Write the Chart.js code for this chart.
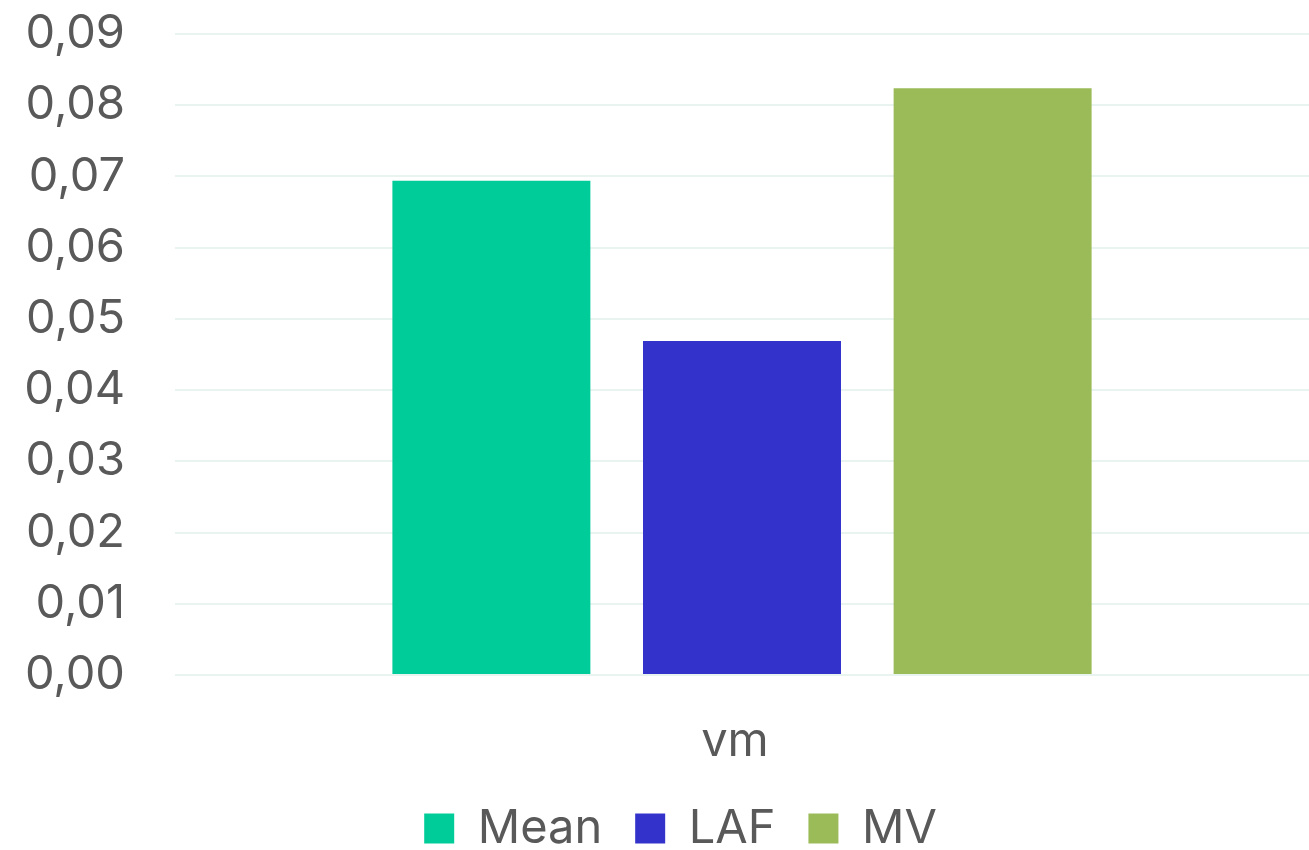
<!DOCTYPE html>
<html>
<head>
<meta charset="utf-8">
<script src="https://cdn.jsdelivr.net/npm/chart.js@4/dist/chart.umd.min.js"></script>
<style>
  html, body { margin: 0; padding: 0; background: #fff; }
  #wrap { width: 1309px; height: 850px; }
</style>
</head>
<body>
<div id="wrap"><canvas id="myChart"></canvas></div>
<script>
  'use strict'

  const categories = ['vm']
  const seriesNames = ['Mean', 'LAF', 'MV']
  const seriesValues = [[0.0694], [0.0469], [0.0824]]
  const seriesColors = ['#00cc99', '#3333cc', '#9bbb59']
  const yTicks = { min: 0, max: 0.09, step: 0.01 }

  const textColor = '#595959'
  const gridColor = '#e9f3f0'
  const fontSize = 47

  // legend sits a bit right of centre in the original
  const legendShift = {
    id: 'legendShift',
    afterLayout(chart) {
      chart.legend.left += 26
      chart.legend.right += 26
    }
  }

  const ctx = document.getElementById('myChart')
  // eslint-disable-next-line no-unused-vars
  const myChart = new Chart(ctx, {
    type: 'bar',
    data: {
      labels: categories,
      datasets: seriesNames.map((name, i) => ({
        label: name,
        data: seriesValues[i],
        backgroundColor: seriesColors[i],
        categoryPercentage: 0.663,
        barPercentage: 0.79
      }))
    },
    plugins: [legendShift],
    options: {
      responsive: true,
      maintainAspectRatio: false,
      animation: false,
      events: [],
      layout: { padding: { top: 34, right: 0, left: 0, bottom: -12 } },
      scales: {
        x: {
          afterFit: s => { s.height = 97 },
          grid: { display: false },
          border: { display: false },
          ticks: {
            color: textColor,
            font: { family: 'Inter', size: fontSize },
            padding: 31,
            labelOffset: -7
          }
        },
        y: {
          min: yTicks.min,
          max: yTicks.max,
          afterFit: s => {
            s.width = 175
            s.paddingTop = 0
            s.paddingBottom = 0
          },
          grid: { color: gridColor, lineWidth: 2, drawTicks: false },
          border: { display: false },
          ticks: {
            stepSize: yTicks.step,
            color: textColor,
            padding: 50,
            font: { family: 'Inter', size: fontSize },
            callback: v => v.toFixed(2).replace('.', ',')
          }
        }
      },
      plugins: {
        legend: {
          position: 'bottom',
          labels: {
            color: textColor,
            font: { family: 'Inter', size: fontSize },
            boxWidth: 30,
            boxHeight: 30,
            padding: 33
          }
        },
        tooltip: { enabled: false }
      }
    }
  })
</script>
</body>
</html>
